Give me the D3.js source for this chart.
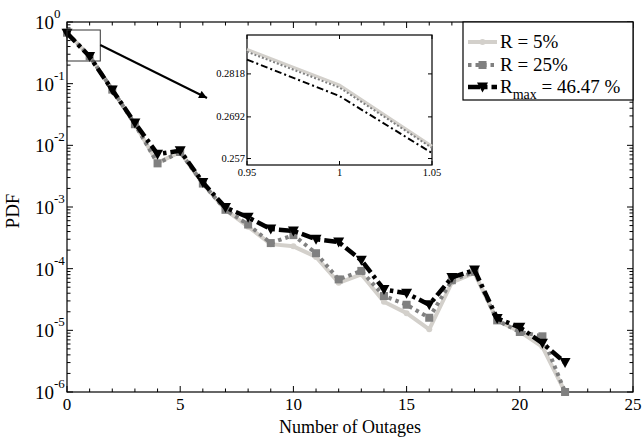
<!DOCTYPE html>
<html><head><meta charset="utf-8">
<script src="https://cdn.jsdelivr.net/npm/d3@7"></script>
<style>body{margin:0;background:#fff}svg{display:block}text{font-family:"Liberation Serif","Times New Roman",serif;fill:#000}</style>
</head><body>
<svg id="c" width="644" height="439"></svg>
<script>
const outages = [0,1,2,3,4,5,6,7,8,9,10,11,12,13,14,15,16,17,18,19,20,21,22];
const r5   = [0.67,0.2785,0.080,0.022,0.0052,0.0078,0.0024,0.0009,0.00048,0.00025,0.00023,0.000155,5.9e-5,8.1e-5,2.9e-5,1.9e-5,1.04e-5,6.0e-5,8.5e-5,1.45e-5,9.5e-6,5.4e-6,1e-6];
const r25  = [0.67,0.278,0.080,0.022,0.0051,0.0078,0.0024,0.0009,0.00052,0.00026,0.00035,0.000178,6.7e-5,9.2e-5,3.6e-5,2.6e-5,1.6e-5,6.5e-5,8.9e-5,1.45e-5,9.4e-6,8.0e-6,1e-6];
const rmax = [0.66,0.2753,0.079,0.023,0.0072,0.0082,0.0025,0.00098,0.00068,0.00044,0.00041,0.0003,0.00027,0.000137,4.6e-5,4.0e-5,2.6e-5,7.2e-5,9.5e-5,1.56e-5,1.12e-5,6.2e-6,3.0e-6];
const xTicks = [0,5,10,15,20,25];
const yExp = [0,-1,-2,-3,-4,-5,-6];
// inset (zoom around x = 1)
const insetX = [0.95,1,1.05];
const insetR5 = [0.2890,0.2785,0.2606];
const insetR25 = [0.2883,0.2778,0.2601];
const insetRmax = [0.2860,0.2753,0.2586];
const insetYTicks = [0.257,0.2692,0.2818];
const insetXTicks = [0.95,1,1.05];

const svg = d3.select("#c");
const L=67,R=633,T=22,B=392;
const x = d3.scaleLinear().domain([0,25]).range([L,R]);
const y = d3.scaleLog().domain([1e-6,1]).range([B,T]);

svg.append("rect").attr("x",L).attr("y",T).attr("width",R-L).attr("height",B-T).attr("fill","none").attr("stroke","#000").attr("stroke-width",1.2);

const xMinor = d3.range(0,26,1);
xMinor.forEach(v=>{
  const big = v%5===0; const len = big?6:3.5;
  svg.append("line").attr("x1",x(v)).attr("x2",x(v)).attr("y1",B).attr("y2",B-len).attr("stroke","#000");
  svg.append("line").attr("x1",x(v)).attr("x2",x(v)).attr("y1",T).attr("y2",T+len).attr("stroke","#000");
});
xTicks.forEach(v=>{
  svg.append("text").attr("x",x(v)).attr("y",B+18).attr("text-anchor","middle").attr("font-size",17).text(v);
});
yExp.forEach(e=>{
  const v = Math.pow(10,e);
  [L,R].forEach((xx,i)=>{
    const d = i===0?1:-1;
    svg.append("line").attr("x1",xx).attr("x2",xx+d*6).attr("y1",y(v)).attr("y2",y(v)).attr("stroke","#000");
    if(e>-6) for(let k=2;k<=9;k++){
      const vv = k*Math.pow(10,e-1);
      svg.append("line").attr("x1",xx).attr("x2",xx+d*3.5).attr("y1",y(vv)).attr("y2",y(vv)).attr("stroke","#000");
    }
  });
  const t = svg.append("text").attr("x",35).attr("y",y(v)+7).attr("font-size",19);
  t.append("tspan").text("10");
  t.append("tspan").attr("dy",-11).attr("font-size",13).text(e);
});
svg.append("text").attr("x",(L+R)/2).attr("y",433).attr("text-anchor","middle").attr("font-size",18).text("Number of Outages");
svg.append("text").attr("transform","translate(19,211) rotate(-90)").attr("text-anchor","middle").attr("font-size",19).text("PDF");

const series = [
  {name:"r5", vals:r5, color:"#d3d0cb", w:4, dash:null, marker:"circle"},
  {name:"r25", vals:r25, color:"#808080", w:4, dash:"3.5,4", marker:"square"},
  {name:"rmax", vals:rmax, color:"#000", w:4.5, dash:"12,4,3.5,4", marker:"tri"}
];
const line = d3.line().x((d,i)=>x(outages[i])).y(d=>y(d));
function marker(g,type,cx,cy,color){
  if(type==="circle") g.append("circle").attr("cx",cx).attr("cy",cy).attr("r",3).attr("fill",color);
  else if(type==="square") g.append("rect").attr("x",cx-4).attr("y",cy-4).attr("width",8).attr("height",8).attr("fill",color);
  else g.append("path").attr("d",`M${cx-5.5},${cy-4.5}L${cx+5.5},${cy-4.5}L${cx},${cy+5.5}Z`).attr("fill",color);
}
series.forEach(s=>{
  const g = svg.append("g");
  g.append("path").attr("d",line(s.vals)).attr("fill","none").attr("stroke",s.color).attr("stroke-width",s.w)
    .attr("stroke-dasharray",s.dash).attr("stroke-linejoin","round");
  s.vals.forEach((v,i)=>marker(g,s.marker,x(outages[i]),y(v),s.color));
});

svg.append("rect").attr("x",x(0)).attr("y",30).attr("width",x(1.47)-x(0)).attr("height",31).attr("fill","none").attr("stroke","#333").attr("stroke-width",1);
svg.append("defs").append("marker").attr("id","ah").attr("viewBox","0 0 10 10").attr("refX",10).attr("refY",5)
  .attr("markerWidth",10).attr("markerHeight",8).attr("orient","auto").attr("markerUnits","userSpaceOnUse")
  .append("path").attr("d","M0,0L10,5L0,10Z").attr("fill","#000");
svg.append("line").attr("x1",x(1.47)).attr("y1",45).attr("x2",207).attr("y2",98).attr("stroke","#000").attr("stroke-width",2).attr("marker-end","url(#ah)");

const iL=247,iR=432,iT=35,iB=165;
const ix = d3.scaleLinear().domain([0.95,1.05]).range([iL,iR]);
const iy = d3.scaleLinear().domain([0.2551,0.2932]).range([iB,iT]);
svg.append("rect").attr("x",iL).attr("y",iT).attr("width",iR-iL).attr("height",iB-iT).attr("fill","#fff").attr("stroke","#000").attr("stroke-width",1.2);
insetXTicks.forEach(v=>{
  svg.append("line").attr("x1",ix(v)).attr("x2",ix(v)).attr("y1",iB).attr("y2",iB-4).attr("stroke","#000");
  svg.append("line").attr("x1",ix(v)).attr("x2",ix(v)).attr("y1",iT).attr("y2",iT+4).attr("stroke","#000");
  svg.append("text").attr("x",ix(v)).attr("y",iB+11).attr("text-anchor","middle").attr("font-size",10.5).text(v);
});
insetYTicks.forEach(v=>{
  svg.append("line").attr("x1",iL).attr("x2",iL+4).attr("y1",iy(v)).attr("y2",iy(v)).attr("stroke","#000");
  svg.append("line").attr("x1",iR).attr("x2",iR-4).attr("y1",iy(v)).attr("y2",iy(v)).attr("stroke","#000");
  svg.append("text").attr("x",iL-2).attr("y",iy(v)+3.5).attr("text-anchor","end").attr("font-size",10.5).text(v);
});
const iline = d3.line().x((d,i)=>ix(insetX[i])).y(d=>iy(d));
const ig = svg.append("g");
ig.append("path").attr("d",iline(insetR5)).attr("fill","none").attr("stroke","#d3d0cb").attr("stroke-width",3);
ig.append("path").attr("d",iline(insetR25)).attr("fill","none").attr("stroke","#808080").attr("stroke-width",2).attr("stroke-dasharray","2,2");
ig.append("path").attr("d",iline(insetRmax)).attr("fill","none").attr("stroke","#000").attr("stroke-width",2).attr("stroke-dasharray","7,3,2,3");

const lg = svg.append("g");
lg.append("rect").attr("x",463).attr("y",T).attr("width",R-463).attr("height",78).attr("fill","#fff").attr("stroke","#000").attr("stroke-width",1.2);
const legRows = [{s:series[0],y:42},{s:series[1],y:65},{s:series[2],y:87}];
legRows.forEach(r=>{
  lg.append("line").attr("x1",468).attr("x2",497).attr("y1",r.y).attr("y2",r.y).attr("stroke",r.s.color).attr("stroke-width",r.s.w).attr("stroke-dasharray",r.s.dash);
  marker(lg,r.s.marker,482.5,r.y,r.s.color);
});
lg.append("text").attr("x",500).attr("y",48).attr("font-size",19).text("R = 5%");
lg.append("text").attr("x",500).attr("y",71).attr("font-size",19).text("R = 25%");
const t3 = lg.append("text").attr("x",500).attr("y",93).attr("font-size",19);
t3.append("tspan").text("R");
t3.append("tspan").attr("dy",6).attr("font-size",14).text("max");
t3.append("tspan").attr("dy",-6).text(" = 46.47 %");
</script>
</body></html>
